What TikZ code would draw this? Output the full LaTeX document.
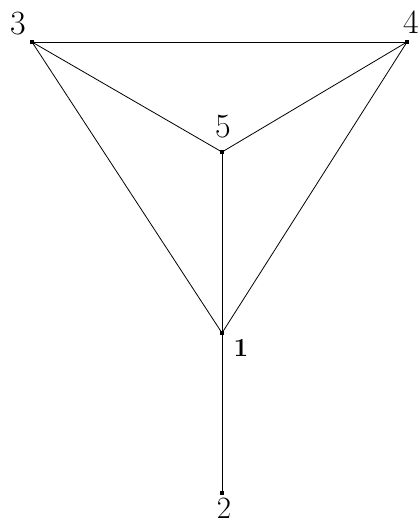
\documentclass[tikz,border=0pt]{standalone}
\usepackage{tikz}
\usetikzlibrary{positioning}

\begin{document}
\begin{tikzpicture}[x=1pt,y=-1pt,
    vdot/.style={fill=black,draw=none,minimum size=4.5pt,inner sep=0pt,rectangle},
    vlab/.style={inner sep=0pt,font=\fontsize{34}{34}\selectfont},
    edge/.style={line width=0.8pt}]
  \useasboundingbox (0,0) rectangle (419,524);
  \node[vdot] (v3) at (32,42) {};
  \node[vdot] (v4) at (407,42) {};
  \node[vdot] (v5) at (222,152) {};
  \node[vdot] (v1) at (222,333) {};
  \node[vdot] (v2) at (222,493) {};
  \node[vlab,anchor=base] (l3) at (18,35) {3};
  \node[vlab,anchor=base] (l4) at (411,34) {4};
  \node[vlab,anchor=base] (l5) at (223,137) {5};
  \node[vlab,anchor=base,font=\fontsize{26}{26}\selectfont\bfseries] (l1) at (241,356) {1};
  \node[vlab,anchor=base,font=\fontsize{31}{31}\selectfont] (l2) at (224,518) {2};
  \draw[edge] (v3.center) -- (v4.center);
  \draw[edge] (v3.center) -- (v5.center);
  \draw[edge] (v4.center) -- (v5.center);
  \draw[edge] (v3.center) -- (v1.center);
  \draw[edge] (v4.center) -- (v1.center);
  \draw[edge] (v5.center) -- (v1.center);
  \draw[edge] (v1.center) -- (v2.center);
\end{tikzpicture}
\end{document}
